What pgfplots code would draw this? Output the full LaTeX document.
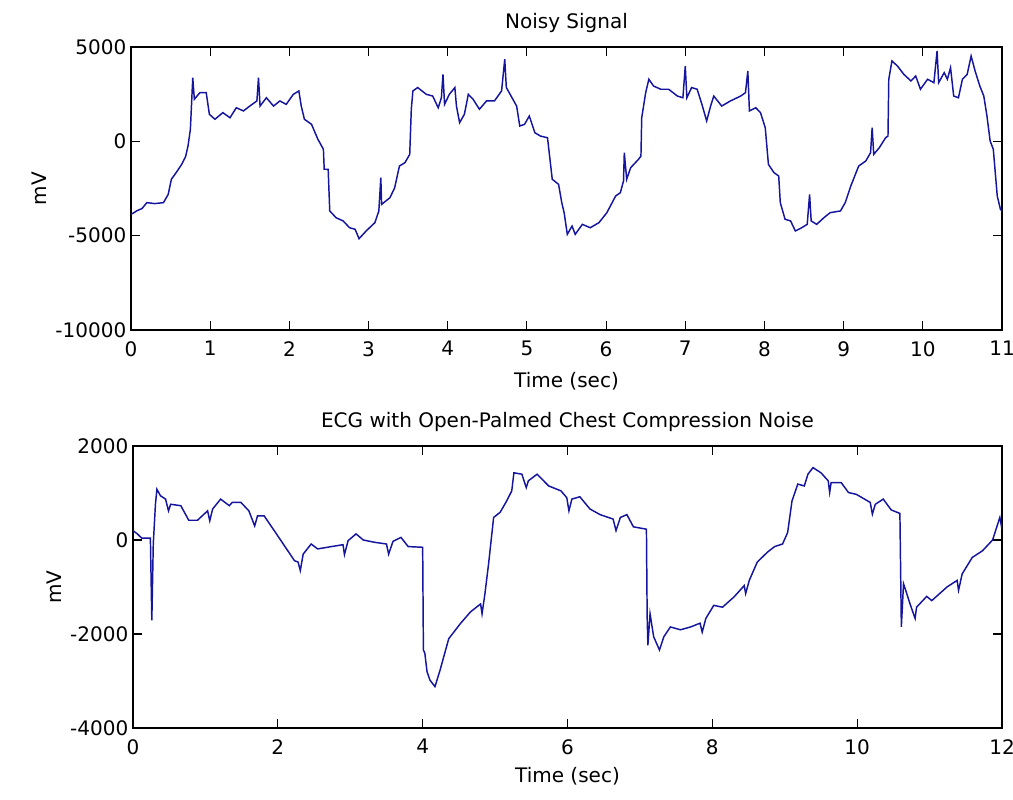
\documentclass[border=0pt]{standalone}
\usepackage{pgfplots}
\pgfplotsset{compat=1.18}
\usepackage{fontspec}
\setmainfont{DejaVu Sans}
\definecolor{sig}{rgb}{0.08,0.08,0.62}
\pgfplotsset{
  mstyle/.style={
    scale only axis,
    axis line style={line width=0.9pt},
    tick style={black, line width=0.8pt},
    tick align=inside,
    major tick length=6.5pt,
    every tick label/.append style={font=\fontsize{15}{18}\selectfont},
    xticklabel style={yshift=-5pt},
    label style={font=\fontsize{15}{18}\selectfont},
    title style={font=\fontsize{15}{18}\selectfont, yshift=1pt},
    /pgf/number format/assume math mode=true,
    ylabel={mV},
    xlabel={Time (sec)},
  }
}
\begin{document}
\begin{tikzpicture}[x=1pt,y=1pt]
\useasboundingbox (0,0) rectangle (759.75,599.25);
\begin{axis}[mstyle,
  at={(98.25pt,351.75pt)}, anchor=south west,
  width=653.25pt, height=212.25pt,
  xmin=0, xmax=11, ymin=-10000, ymax=5000,
  xtick={0,1,...,11},
  ytick={-10000,-5000,0,5000},
  yticklabels={-10000,-5000,0,5000},
  title={Noisy Signal},
  xlabel style={yshift=-5pt},
  scaled y ticks=false,
]
\addplot[sig, line width=1.1pt] table {
0 -3870
0.05 -3750
0.07 -3690
0.14 -3560
0.2 -3250
0.30 -3300
0.41 -3250
0.47 -2810
0.51 -2010
0.58 -1600
0.64 -1220
0.69 -800
0.72 -250
0.75 640
0.78 3370
0.80 2230
0.87 2580
0.95 2580
0.99 1430
1.06 1170
1.16 1520
1.25 1250
1.33 1780
1.42 1610
1.50 1870
1.59 2140
1.61 3370
1.63 1870
1.71 2310
1.80 1870
1.88 2140
1.96 1960
2.05 2490
2.12 2670
2.15 1870
2.19 1170
2.28 900
2.36 110
2.43 -420
2.44 -1480
2.49 -1480
2.51 -3690
2.59 -4050
2.68 -4220
2.76 -4580
2.83 -4660
2.88 -5160
2.97 -4750
3.08 -4310
3.13 -3690
3.155 -1930
3.165 -3340
3.27 -2990
3.33 -2460
3.39 -1310
3.46 -1130
3.52 -690
3.54 1700
3.56 2670
3.62 2850
3.73 2490
3.81 2400
3.88 1780
3.92 2310
3.94 3550
3.96 1960
4.02 2490
4.09 2850
4.11 1870
4.15 990
4.21 1430
4.26 2490
4.32 2230
4.40 1700
4.49 2140
4.59 2140
4.68 2670
4.72 4350
4.74 2850
4.80 2400
4.87 1870
4.91 810
4.97 900
5.03 1340
5.10 460
5.17 280
5.26 190
5.32 -2010
5.40 -2280
5.44 -3250
5.47 -3780
5.51 -4930
5.57 -4490
5.61 -4930
5.70 -4400
5.80 -4580
5.91 -4310
6.01 -3780
6.12 -2900
6.18 -2720
6.22 -2100
6.23 -600
6.26 -2010
6.31 -1400
6.41 -950
6.44 -780
6.45 1250
6.50 2580
6.54 3290
6.60 2930
6.69 2760
6.79 2760
6.90 2400
6.97 2310
7.00 3990
7.02 2310
7.08 2850
7.15 2760
7.21 1960
7.27 1080
7.32 1870
7.36 2400
7.46 1870
7.57 2140
7.70 2400
7.76 2580
7.79 3730
7.81 1610
7.89 1780
7.95 1520
8.01 720
8.05 -1220
8.12 -1660
8.18 -1840
8.20 -3250
8.26 -4130
8.33 -4220
8.39 -4750
8.47 -4580
8.54 -4400
8.57 -2810
8.59 -4220
8.66 -4400
8.75 -4050
8.83 -3780
8.96 -3690
9.02 -3250
9.09 -2370
9.19 -1310
9.28 -1040
9.34 -600
9.36 720
9.38 -690
9.45 -340
9.53 190
9.56 280
9.57 3290
9.61 4260
9.68 3990
9.76 3550
9.85 3200
9.91 3460
9.97 2760
10.06 3290
10.14 3110
10.18 4790
10.20 3110
10.27 3640
10.31 3290
10.35 3900
10.39 2400
10.45 2310
10.50 3290
10.56 3550
10.61 4520
10.66 3730
10.72 2930
10.77 2400
10.81 1340
10.85 20
10.89 -420
10.94 -2900
10.98 -3600
11.00 -3700
};
\end{axis}
\begin{axis}[mstyle,
  at={(99.75pt,53.25pt)}, anchor=south west,
  width=651.75pt, height=211.5pt,
  xmin=0, xmax=12, ymin=-4000, ymax=2000,
  xtick={0,2,...,12},
  ytick={-4000,-2000,0,2000},
  yticklabels={-4000,-2000,0,2000},
  title={ECG with Open-Palmed Chest Compression Noise},
  xlabel style={yshift=-3pt},
  scaled y ticks=false,
]
\addplot[sig, line width=1.1pt] table {
0 200
0.06 130
0.12 40
0.24 40
0.26 -1710
0.28 -85
0.31 760
0.33 1080
0.38 940
0.45 870
0.49 620
0.52 760
0.66 730
0.77 420
0.89 420
1.03 620
1.06 410
1.10 660
1.21 870
1.33 730
1.37 800
1.49 800
1.60 620
1.68 300
1.72 515
1.81 515
1.95 200
2.09 -120
2.23 -440
2.28 -470
2.31 -650
2.35 -300
2.46 -85
2.55 -190
2.74 -140
2.90 -100
2.92 -310
2.97 -15
3.08 130
3.18 0
3.34 -50
3.50 -85
3.53 -300
3.59 -30
3.70 55
3.80 -140
4.00 -155
4.01 -2340
4.03 -2410
4.06 -2800
4.10 -2980
4.17 -3120
4.24 -2770
4.36 -2100
4.52 -1780
4.66 -1530
4.80 -1360
4.82 -1570
4.86 -1140
4.91 -510
4.98 480
5.07 590
5.16 830
5.23 1045
5.26 1430
5.37 1400
5.43 1115
5.46 1260
5.58 1400
5.74 1150
5.91 1045
5.99 900
6.02 620
6.06 870
6.17 920
6.31 660
6.45 540
6.63 445
6.67 200
6.73 480
6.82 540
6.91 280
7.09 230
7.10 -1640
7.11 -2240
7.14 -1570
7.19 -2060
7.27 -2340
7.33 -2060
7.42 -1850
7.56 -1910
7.70 -1850
7.83 -1770
7.86 -1960
7.91 -1670
8.02 -1390
8.14 -1430
8.30 -1210
8.44 -970
8.46 -1140
8.51 -860
8.62 -470
8.76 -260
8.86 -140
8.97 -85
9.04 160
9.10 830
9.18 1190
9.27 1150
9.32 1400
9.39 1540
9.50 1430
9.60 1260
9.62 1010
9.64 1220
9.78 1220
9.88 1010
9.99 970
10.18 800
10.21 550
10.25 760
10.36 870
10.47 640
10.59 565
10.61 -1850
10.64 -930
10.67 -1070
10.73 -1360
10.80 -1670
10.82 -1430
10.96 -1200
11.03 -1290
11.24 -1000
11.38 -860
11.40 -1070
11.45 -720
11.59 -370
11.73 -230
11.87 0
11.97 480
12.0 230
};
\end{axis}
\end{tikzpicture}
\end{document}
